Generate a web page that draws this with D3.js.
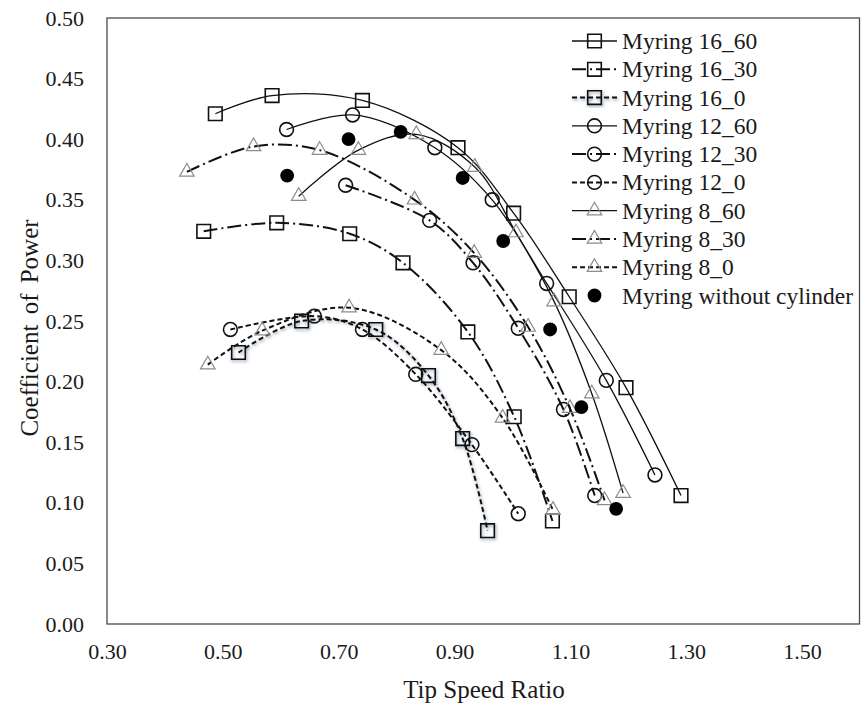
<!DOCTYPE html>
<html>
<head>
<meta charset="utf-8">
<script src="https://cdn.jsdelivr.net/npm/d3@7"></script>
<style>
  body { margin: 0; background: #fff; }
  text { font-family: "Liberation Serif", "Times New Roman", serif; fill: #1a1a1a; }
</style>
</head>
<body>
<script>
// tip speed ratio / coefficient of power
const myring16_60 = [[0.487, 0.421], [0.585, 0.436], [0.741, 0.432], [0.906, 0.393], [1.002, 0.339], [1.098, 0.270], [1.196, 0.195], [1.291, 0.106]];
const myring16_30 = [[0.467, 0.324], [0.593, 0.331], [0.719, 0.322], [0.811, 0.298], [0.923, 0.241], [1.003, 0.171], [1.069, 0.085]];
const myring16_0 = [[0.527, 0.224], [0.636, 0.250], [0.764, 0.243], [0.855, 0.205], [0.914, 0.153], [0.957, 0.077]];
const myring12_60 = [[0.610, 0.408], [0.724, 0.420], [0.866, 0.393], [0.965, 0.350], [1.059, 0.281], [1.162, 0.201], [1.246, 0.123]];
const myring12_30 = [[0.712, 0.362], [0.857, 0.333], [0.932, 0.298], [1.010, 0.244], [1.088, 0.177], [1.142, 0.106]];
const myring12_0 = [[0.513, 0.243], [0.658, 0.254], [0.741, 0.243], [0.833, 0.206], [0.930, 0.148], [1.010, 0.091]];
const myring8_60 = [[0.631, 0.353], [0.734, 0.391], [0.834, 0.404], [0.935, 0.377], [1.006, 0.323], [1.072, 0.266], [1.137, 0.190], [1.191, 0.108]];
const myring8_30 = [[0.438, 0.373], [0.553, 0.394], [0.667, 0.391], [0.831, 0.350], [0.934, 0.306], [1.027, 0.245], [1.099, 0.178], [1.159, 0.102]];
const myring8_0 = [[0.474, 0.214], [0.568, 0.242], [0.718, 0.261], [0.877, 0.226], [0.983, 0.170], [1.070, 0.094]];
const myringNoCyl = [[0.611, 0.370], [0.717, 0.400], [0.807, 0.406], [0.914, 0.368], [0.984, 0.316], [1.065, 0.243], [1.119, 0.179], [1.179, 0.095]];

const xTicks = [0.30, 0.50, 0.70, 0.90, 1.10, 1.30, 1.50];
const yTicks = [0, 0.05, 0.10, 0.15, 0.20, 0.25, 0.30, 0.35, 0.40, 0.45, 0.50];

const lineStyles = {
    solid: { width: 1.3, dash: null },
    dashdot: { width: 2, dash: "14 4 2 4" },
    dashed: { width: 2, dash: "5 3" }
};

const series = [
    { name: "Myring 16_60", data: myring16_60, marker: "square", line: "solid" },
    { name: "Myring 16_30", data: myring16_30, marker: "square", line: "dashdot" },
    { name: "Myring 16_0", data: myring16_0, marker: "square", line: "dashed", shadow: true },
    { name: "Myring 12_60", data: myring12_60, marker: "circle", line: "solid" },
    { name: "Myring 12_30", data: myring12_30, marker: "circle", line: "dashdot" },
    { name: "Myring 12_0", data: myring12_0, marker: "circle", line: "dashed" },
    { name: "Myring 8_60", data: myring8_60, marker: "triangle", line: "solid" },
    { name: "Myring 8_30", data: myring8_30, marker: "triangle", line: "dashdot" },
    { name: "Myring 8_0", data: myring8_0, marker: "triangle", line: "dashed" },
    { name: "Myring without cylinder", data: myringNoCyl, marker: "dot", line: null }
];

const width = 861;
const height = 704;
const margin = { left: 107, right: 1, top: 18, bottom: 80 };

const svg = d3.select("body").append("svg")
    .attr("width", width)
    .attr("height", height);

const defs = svg.append("defs");
const shadow = defs.append("filter")
    .attr("id", "shadow")
    .attr("x", "-20%").attr("y", "-20%")
    .attr("width", "140%").attr("height", "140%");
shadow.append("feDropShadow")
    .attr("dx", 1).attr("dy", 1.5)
    .attr("stdDeviation", 1.5)
    .attr("flood-color", "#2b3f5c")
    .attr("flood-opacity", 0.55);

const x = d3.scaleLinear().domain([0.3, 1.6]).range([margin.left, width - margin.right]);
const y = d3.scaleLinear().domain([0, 0.5]).range([height - margin.bottom, margin.top]);

// plot frame
svg.append("rect")
    .attr("x", x(0.3))
    .attr("y", y(0.5))
    .attr("width", x(1.6) - x(0.3) - 0.5)
    .attr("height", y(0) - y(0.5))
    .attr("fill", "none")
    .attr("stroke", "#4a4a4a")
    .attr("stroke-width", 1.3);

// axes, labels only
const xAxis = svg.append("g")
    .attr("transform", `translate(0, ${y(0)})`)
    .call(d3.axisBottom(x).tickValues(xTicks).tickSize(0).tickPadding(19).tickFormat(d3.format(".2f")));
xAxis.select(".domain").remove();
xAxis.selectAll("text")
    .attr("font-size", 22)
    .attr("font-family", "Liberation Serif")
    .attr("fill", "#1a1a1a");

const yAxis = svg.append("g")
    .attr("transform", `translate(${x(0.3)}, 0)`)
    .call(d3.axisLeft(y).tickValues(yTicks).tickSize(0).tickPadding(23).tickFormat(d3.format(".2f")));
yAxis.select(".domain").remove();
yAxis.selectAll("text")
    .attr("font-size", 22)
    .attr("font-family", "Liberation Serif")
    .attr("fill", "#1a1a1a");

svg.append("text")
    .attr("x", 484)
    .attr("y", 698)
    .attr("text-anchor", "middle")
    .attr("font-size", 25)
    .text("Tip Speed Ratio");

svg.append("text")
    .attr("transform", "translate(38, 328) rotate(-90)")
    .attr("text-anchor", "middle")
    .attr("font-size", 25)
    .attr("word-spacing", 4)
    .text("Coefficient of Power");

const markerPath = {
    square: d3.symbol().type(d3.symbolSquare).size(185)(),
    circle: d3.symbol().type(d3.symbolCircle).size(150)(),
    triangle: d3.symbol().type(d3.symbolTriangle).size(92)(),
    dot: d3.symbol().type(d3.symbolCircle).size(150)()
};

const drawMarker = (sel, s) => {
    sel.attr("d", markerPath[s.marker])
        .attr("fill", s.marker === "dot" ? "#000" : "none")
        .attr("stroke", s.marker === "triangle" ? "#8c8c8c" : (s.marker === "dot" ? "none" : "#111"))
        .attr("stroke-width", s.marker === "triangle" ? 1.2 : 1.6);
};

const line = d3.line()
    .x(d => x(d[0]))
    .y(d => y(d[1]))
    .curve(d3.curveCatmullRom.alpha(0.5));

const plot = svg.append("g");

series.forEach(s => {
    const g = plot.append("g");
    if (s.shadow) g.attr("filter", "url(#shadow)");
    if (s.line) {
        const st = lineStyles[s.line];
        g.append("path")
            .datum(s.data)
            .attr("d", line)
            .attr("fill", "none")
            .attr("stroke", "#111")
            .attr("stroke-width", st.width)
            .attr("stroke-dasharray", st.dash);
    }
    g.selectAll(".pt")
        .data(s.data)
        .join("path")
        .attr("class", "pt")
        .attr("transform", d => `translate(${x(d[0])}, ${y(d[1])})`)
        .call(sel => drawMarker(sel, s));
});

// legend
const legend = svg.append("g");
const rowY = d3.scaleLinear().domain([0, series.length - 1]).range([41, 295.5]);

series.forEach((s, i) => {
    const row = legend.append("g")
        .attr("transform", `translate(0, ${rowY(i)})`);
    const sample = row.append("g");
    if (s.shadow) sample.attr("filter", "url(#shadow)");
    if (s.line) {
        const st = lineStyles[s.line];
        sample.append("line")
            .attr("x1", 572).attr("x2", 617)
            .attr("stroke", "#111")
            .attr("stroke-width", st.width)
            .attr("stroke-dasharray", st.dash);
    }
    sample.append("path")
        .attr("transform", "translate(594.5, 0)")
        .call(sel => drawMarker(sel, s));
    row.append("text")
        .attr("x", 622)
        .attr("y", 8)
        .attr("font-size", 23.5)
        .text(s.name);
});
</script>
</body>
</html>
